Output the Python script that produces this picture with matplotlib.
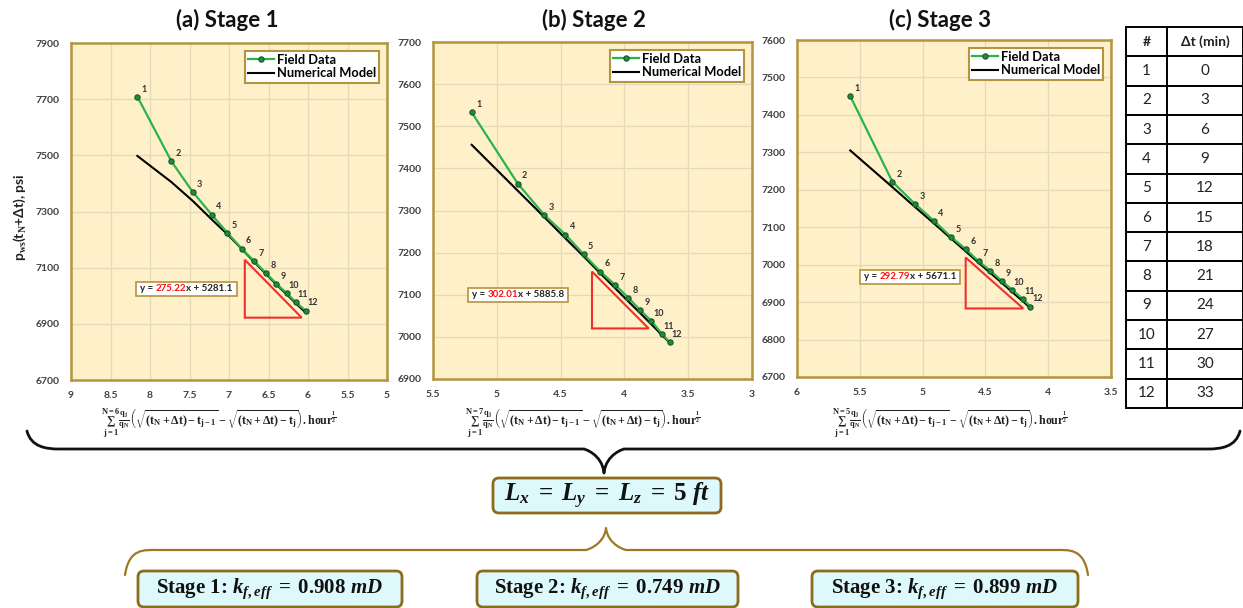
import matplotlib
matplotlib.use('Agg')
import matplotlib.pyplot as plt
from matplotlib.path import Path
from matplotlib.patches import PathPatch, FancyBboxPatch, Polygon, Rectangle
from matplotlib.ticker import FuncFormatter, MultipleLocator
from matplotlib.transforms import Bbox, IdentityTransform

plt.rcParams['font.family'] = ['Lato', 'DejaVu Sans']
plt.rcParams['mathtext.fontset'] = 'custom'
plt.rcParams['mathtext.rm'] = 'Liberation Serif:bold'
plt.rcParams['mathtext.bf'] = 'Liberation Serif:bold'
plt.rcParams['mathtext.it'] = 'Liberation Serif:bold:italic'

# --- data ---
point_ids = [str(i) for i in range(1, 13)]
dt_min = [0, 3, 6, 9, 12, 15, 18, 21, 24, 27, 30, 33]

stage1_x = [8.16, 7.73, 7.46, 7.22, 7.02, 6.84, 6.68, 6.53, 6.40, 6.27, 6.15, 6.03]
stage1_field = [7709, 7479, 7370, 7289, 7224, 7168, 7123, 7080, 7043, 7009, 6976, 6947]
stage1_model = [7498, 7405, 7338, 7272, 7219, 7167, 7120, 7077, 7040, 7005, 6972, 6940]

stage2_x = [5.197, 4.836, 4.627, 4.463, 4.319, 4.189, 4.071, 3.969, 3.878, 3.789, 3.705, 3.645]
stage2_field = [7533, 7364, 7289, 7243, 7196, 7155, 7123, 7093, 7064, 7038, 7007, 6987]
stage2_model = [7456, 7347, 7284, 7234, 7191, 7151, 7115, 7084, 7057, 7030, 7004, 6986]

stage3_x = [5.576, 5.24, 5.057, 4.909, 4.774, 4.655, 4.554, 4.461, 4.371, 4.287, 4.204, 4.141]
stage3_field = [7450, 7221, 7161, 7117, 7074, 7041, 7009, 6984, 6957, 6933, 6909, 6888]
stage3_model = [7305, 7207, 7153, 7110, 7070, 7035, 7005, 6978, 6952, 6927, 6903, 6884]

# slope triangles (x, y of the three corners)
tri1_x = [6.80, 6.80, 6.08]
tri1_y = [7128, 6922, 6922]
tri2_x = [4.254, 4.254, 3.81]
tri2_y = [7155, 7020, 7020]
tri3_x = [4.657, 4.657, 4.199]
tri3_y = [7019, 6883, 6883]

slopes = ['275.22', '302.01', '292.79']
intercepts = ['5281.1', '5885.8', '5671.1']
eq_pos = [(7.54, 7026), (4.834, 7101), (5.10, 6968)]
n_terms = [6, 7, 5]
titles = ['(a) Stage 1', '(b) Stage 2', '(c) Stage 3']
k_eff = ['0.908', '0.749', '0.899']

BG = '#FEF0C9'
GOLD = '#B39440'
GREEN = '#2DB34A'
W, H = 1243, 608

fig = plt.figure(figsize=(W / 100, H / 100), dpi=100)


def px_axes(l, t, r, b):
    return fig.add_axes([l / W, 1 - b / H, (r - l) / W, (b - t) / H])


axes = [px_axes(71, 43, 387, 380), px_axes(433, 42, 752, 379), px_axes(797, 40, 1111, 377)]
xs = [stage1_x, stage2_x, stage3_x]
fields = [stage1_field, stage2_field, stage3_field]
models = [stage1_model, stage2_model, stage3_model]
tris = [(tri1_x, tri1_y), (tri2_x, tri2_y), (tri3_x, tri3_y)]
xlims = [(9, 5), (5.5, 3), (6, 3.5)]
ylims = [(6700, 7900), (6900, 7700), (6700, 7600)]
ysteps = [200, 100, 100]
title_x = [227, 594, 940]
xlabel_x = [219, 583, 950]

eq_chains = []
for i, ax in enumerate(axes):
    ax.set_facecolor(BG)
    ax.plot(xs[i], models[i], color='black', lw=1.5, zorder=3, label='Numerical Model')
    ax.plot(xs[i], fields[i], color=GREEN, lw=1.6, marker='o', ms=3.8,
            mfc='#228a3e', mec='#155a29', mew=0.8, zorder=4, label='Field Data')
    for j, lab in enumerate(point_ids):
        ax.annotate(lab, (xs[i][j], fields[i][j]), textcoords='offset points',
                    xytext=(5, 5.5), ha='center', va='center', fontsize=6.5,
                    fontweight='bold', color='#333333', zorder=5)
    tx, ty = tris[i]
    ax.add_patch(Polygon(list(zip(tx, ty)), closed=True, fill=False,
                         ec='#F0302A', lw=1.5, zorder=4))

    # equation: black text with the slope in red
    ex, ey = eq_pos[i]
    t1 = ax.text(ex, ey, 'y = ', ha='left', va='center', fontsize=7,
                 fontweight='bold', color='#222222', zorder=6)
    t2 = ax.annotate(slopes[i], xy=(1, 0), xycoords=t1, ha='left', va='bottom',
                     fontsize=7, fontweight='bold', color='#FF1010', zorder=6)
    t3 = ax.annotate('x + ' + intercepts[i], xy=(1, 0), xycoords=t2, ha='left', va='bottom',
                     fontsize=7, fontweight='bold', color='#222222', zorder=6)
    eq_chains.append((ax, (ex, ey), t1, t2, t3))

    ax.set_xlim(*xlims[i])
    ax.set_ylim(*ylims[i])
    ax.xaxis.set_major_locator(MultipleLocator(0.5))
    ax.set_yticks(list(range(ylims[i][0], ylims[i][1] + 1, ysteps[i])))
    ax.xaxis.set_major_formatter(FuncFormatter(lambda v, p: '%g' % v))
    ax.grid(True, color='#E4D9B9', lw=0.9, zorder=0)
    ax.set_axisbelow(True)
    ax.tick_params(length=0, labelsize=7.5, colors='#404040', pad=8)
    for lab in ax.get_xticklabels() + ax.get_yticklabels():
        lab.set_fontweight('bold')
    for sp in ax.spines.values():
        sp.set_color(GOLD)
        sp.set_linewidth(1.8)

    h, l = ax.get_legend_handles_labels()
    leg = ax.legend(h[::-1], l[::-1], loc='upper right', frameon=True,
                    fancybox=False, borderaxespad=0.6, borderpad=0.25, labelspacing=0.1,
                    handlelength=2.0, handletextpad=0.2, prop={'weight': 'bold', 'size': 9.3})
    leg.get_frame().set_edgecolor(GOLD)
    leg.get_frame().set_linewidth(1.5)
    leg.get_frame().set_facecolor('white')
    leg.get_frame().set_alpha(1)

    fig.text(title_x[i] / W, 1 - 20 / H, titles[i], ha='center', va='center',
             fontsize=16, fontweight='bold', color='#111111')

    xl = (r'$\sum_{\mathrm{j=1}}^{\mathrm{N=%d}}\frac{\mathrm{q_j}}{\mathrm{q_N}}'
          r'\left(\sqrt{(\mathrm{t_N}+\Delta\mathrm{t})-\mathrm{t_{j-1}}}'
          r'-\sqrt{(\mathrm{t_N}+\Delta\mathrm{t})-\mathrm{t_j}}\right)'
          r'\mathrm{.hour}^{\frac{1}{2}}$') % n_terms[i]
    fig.text(xlabel_x[i] / W, 1 - 424 / H, xl,
             ha='center', va='center', fontsize=8.6, color='#222222')

fig.text(20 / W, 1 - 217 / H, r'p$_{\mathrm{ws}}$(t$_{\mathrm{N}}$+Δt), psi', rotation=90,
         ha='center', va='center', fontsize=10, fontweight='bold', color='#222222')

# --- table of shut-in times ---
tax = px_axes(1126, 27, 1243, 408)
tax.axis('off')
cells = [[point_ids[k], str(dt_min[k])] for k in range(12)]
tbl = tax.table(cellText=cells, colLabels=['#', 'Δt (min)'], bbox=[0, 0, 1, 1],
                colWidths=[41, 76], cellLoc='center')
tbl.auto_set_font_size(False)
for (r, c), cell in tbl.get_celld().items():
    cell.set_linewidth(1.4)
    cell.set_edgecolor('black')
    cell.get_text().set_fontsize(11 if r > 0 else 10)
    cell.get_text().set_color('#222222')
    if r == 0:
        cell.get_text().set_fontweight('bold')

# --- braces and result boxes (pixel space overlay) ---
ov = fig.add_axes([0, 0, 1, 1], zorder=-1)
ov.set_xlim(0, W)
ov.set_ylim(H, 0)
ov.axis('off')


def brace(ax, x0, x1, xm, yline, ytip, yend, color, lw, r=32):
    verts = [(x0, yend), (x0 + 4, yline - 2), (x0 + r * 0.6, yline), (x0 + r, yline),
             (xm - 20, yline), (xm - 20, yline), (xm - 2, yline + (ytip - yline) * 0.2), (xm, ytip),
             (xm + 2, yline + (ytip - yline) * 0.2), (xm + 20, yline), (xm + 20, yline),
             (x1 - r, yline), (x1 - r * 0.6, yline), (x1 - 4, yline - 2), (x1, yend)]
    codes = [Path.MOVETO, Path.CURVE4, Path.CURVE4, Path.CURVE4,
             Path.LINETO, Path.CURVE4, Path.CURVE4, Path.CURVE4,
             Path.CURVE4, Path.CURVE4, Path.CURVE4,
             Path.LINETO, Path.CURVE4, Path.CURVE4, Path.CURVE4]
    ax.add_patch(PathPatch(Path(verts, codes), fill=False, ec=color, lw=lw,
                           capstyle='round', joinstyle='round'))


brace(ov, 27, 1240, 604, 449, 473, 431, '#111111', 2.0)
brace(ov, 125, 1088, 606, 550, 528, 575, '#9C7A22', 1.6)

BOX_FC = '#DDF9FB'
BOX_EC = '#8B6C1A'


def result_box(ax, l, t, r, b, txt, fs):
    ax.add_patch(FancyBboxPatch((l, t), r - l, b - t, boxstyle='round,pad=0,rounding_size=6',
                                fc=BOX_FC, ec=BOX_EC, lw=2))
    ax.text((l + r) / 2, (t + b) / 2, txt, ha='center', va='center', fontsize=fs,
            color='#111111', family='Liberation Serif', fontweight='bold')


result_box(ov, 493, 478, 721, 513, r'$L_x\;=\;L_y\;=\;L_z\;=\;5\ ft$', 18)
box_lr = [(138, 402), (477, 738), (812, 1078)]
for i, (l, r) in enumerate(box_lr):
    result_box(ov, l, 571, r, 607,
               r'Stage %d: $k_{f,eff}\;=\;%s\ mD$' % (i + 1, k_eff[i]), 15)

# centre each equation chain on its spot and put a frame around it
fig.canvas.draw()
rend = fig.canvas.get_renderer()
for ax, (ex, ey), t1, t2, t3 in eq_chains:
    bb = Bbox.union([t.get_window_extent(rend) for t in (t1, t2, t3)])
    cx, cy = ax.transData.transform((ex, ey))
    t1.set_position(ax.transData.inverted().transform((cx - bb.width / 2, cy)))
fig.canvas.draw()
for ax, _, t1, t2, t3 in eq_chains:
    bb = Bbox.union([t.get_window_extent(rend) for t in (t1, t2, t3)])
    ax.add_patch(Rectangle((bb.x0 - 4, bb.y0 - 3), bb.width + 8, bb.height + 5,
                           transform=IdentityTransform(), fc='white', ec=GOLD,
                           lw=1.2, zorder=5))

fig.savefig('out.png', dpi=100, facecolor='white')
